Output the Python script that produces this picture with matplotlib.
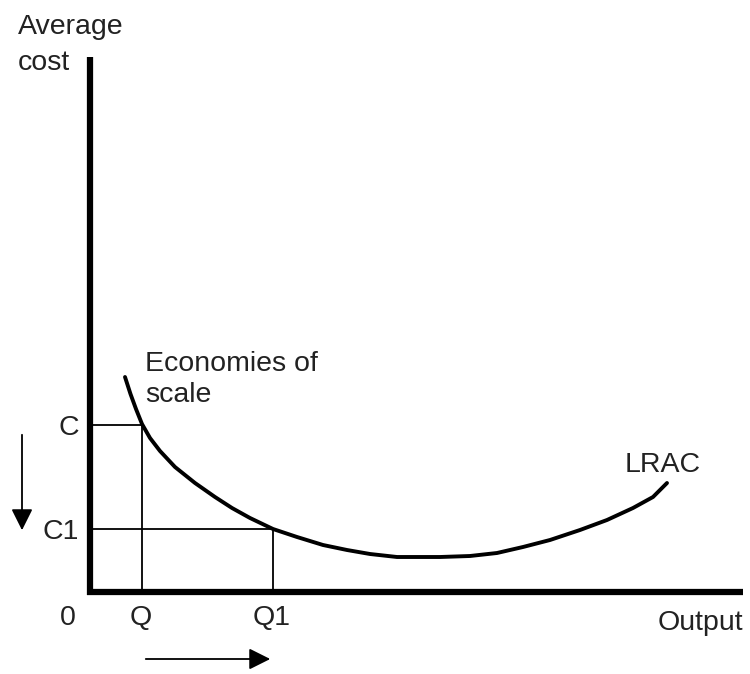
import matplotlib
matplotlib.use("Agg")
import matplotlib.pyplot as plt

plt.rcParams['font.family'] = ['Liberation Sans', 'DejaVu Sans']

# long run average cost curve (output, cost)
lrac_q = [3.5, 4.05, 4.6, 5.2, 6.0, 7.0, 8.5, 10.5, 12.5, 14.2, 16.0, 18.3, 20.7, 23.3, 25.7, 28.0,
          30.7, 35.0, 38.0, 40.7, 43.3, 46.0, 49.0, 51.7, 54.3, 56.3, 57.7]
lrac_c = [21.5, 19.8, 18.3, 16.8, 15.4, 14.1, 12.5, 10.9, 9.5, 8.4, 7.4, 6.3, 5.5, 4.7, 4.2, 3.8,
          3.5, 3.5, 3.6, 3.9, 4.5, 5.2, 6.2, 7.2, 8.4, 9.5, 10.9]

# marked points
q_vals = [5.2, 18.3]
c_vals = [16.7, 6.3]
q_labels = ["Q", "Q1"]
c_labels = ["C", "C1"]

x_max = 65.3
y_max = 53.5

TXT = "#222222"
FS = 20.5

fig = plt.figure(figsize=(7.5, 6.74), dpi=100)
ax = fig.add_axes([0, 0, 1, 1])
ax.set_xlim(-9.0, 66.0)
ax.set_ylim(-8.2, 59.2)
ax.axis("off")

# axes of the diagram
ax.plot([0, 0], [-0.3, y_max], color="black", lw=4.5, solid_capstyle="butt")
ax.plot([-0.3, x_max], [0, 0], color="black", lw=4.5, solid_capstyle="butt")

# guide lines
for q, c in zip(q_vals, c_vals):
    ax.plot([0, q], [c, c], color="black", lw=1.3)
    ax.plot([q, q], [0, c], color="black", lw=1.3)

ax.plot(lrac_q, lrac_c, color="black", lw=2.8, solid_joinstyle="round", solid_capstyle="round")

# labels
ax.text(-7.2, 55.8, "Average", fontsize=FS, color=TXT, va="baseline")
ax.text(-7.2, 52.2, "cost", fontsize=FS, color=TXT, va="baseline")
ax.text(5.5, 22.1, "Economies of", fontsize=FS, color=TXT, va="baseline")
ax.text(5.5, 19.0, "scale", fontsize=FS, color=TXT, va="baseline")
ax.text(53.5, 12.0, "LRAC", fontsize=FS, color=TXT, va="baseline")
ax.text(56.8, -3.8, "Output", fontsize=FS, color=TXT, va="baseline")
ax.text(-2.2, -3.3, "0", fontsize=FS, color=TXT, va="baseline", ha="center")

for c, lab in zip(c_vals, c_labels):
    ax.text(-1.1, c - 1.0, lab, fontsize=FS, color=TXT, va="baseline", ha="right")
for q, lab in zip(q_vals, q_labels):
    ax.text(q - 0.1, -3.3, lab, fontsize=FS, color=TXT, va="baseline", ha="center")

# direction arrows
ax.annotate("", xy=(-6.8, 5.9), xytext=(-6.8, 16.0),
            arrowprops=dict(arrowstyle="-|>,head_length=1.3,head_width=0.65", color="black", lw=1.3))
ax.annotate("", xy=(18.3, -6.7), xytext=(5.3, -6.7),
            arrowprops=dict(arrowstyle="-|>,head_length=1.3,head_width=0.65", color="black", lw=1.3))

fig.savefig("out.png", dpi=100, facecolor="white")
